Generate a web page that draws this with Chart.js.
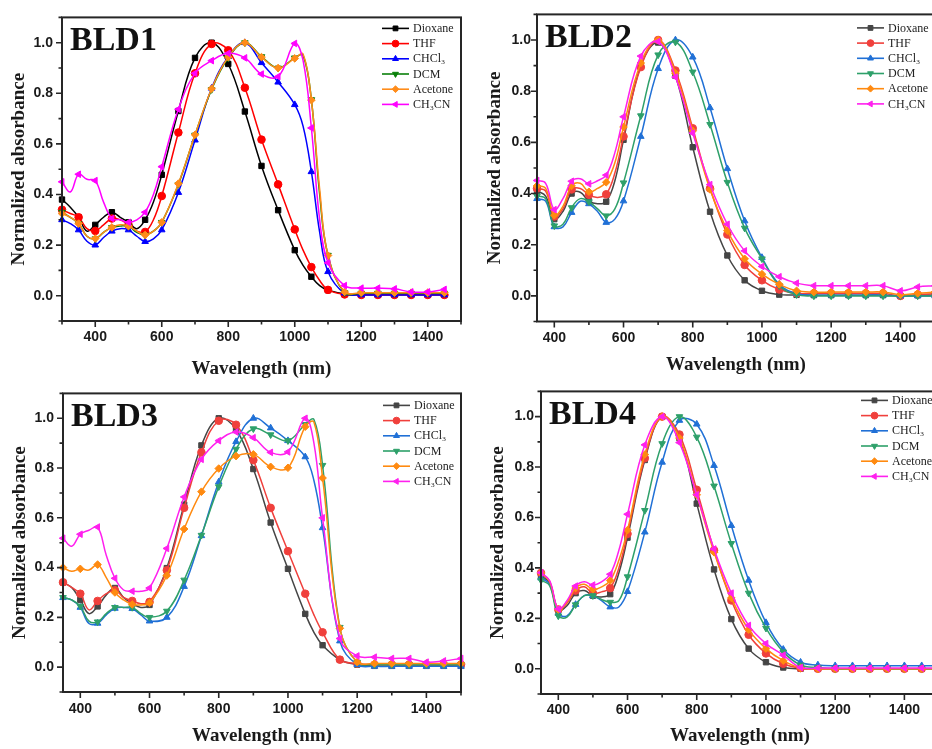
<!DOCTYPE html>
<html>
<head>
<meta charset="utf-8">
<script src="https://cdn.jsdelivr.net/npm/chart.js@4.4.1/dist/chart.umd.min.js"></script>
<style>
    html, body { margin: 0; padding: 0; background: #fff; }
    #wrap { position: relative; width: 932px; height: 749px; overflow: hidden; background: #fff; }
    canvas { position: absolute; }
</style>
</head>
<body>
<div id="wrap">
    <canvas id="bld1" width="466" height="382" style="left:0;top:0"></canvas>
    <canvas id="bld2" width="474" height="379" style="left:466px;top:0"></canvas>
    <canvas id="bld3" width="466" height="373" style="left:0;top:376px"></canvas>
    <canvas id="bld4" width="478" height="373" style="left:466px;top:376px"></canvas>
</div>
<script>
// solvents, same order in every panel
const solventNames = ['Dioxane', 'THF', 'CHCl₃', 'DCM', 'Acetone', 'CH₃CN'];
const markerStyles = ['rect', 'circle', 'triangle', 'triangle', 'rectRot', 'triangle'];
const markerRotation = [0, 0, 0, 180, 0, 270];
const brightColors = ['#000000', '#ff0000', '#0000ff', '#0a800a', '#ff8c1a', '#ff00ff'];
const softColors = ['#454545', '#f0403c', '#2070d6', '#2ea06a', '#ff8a10', '#ff20ee'];

const xTickValues = [400, 600, 800, 1000, 1200, 1400];
const yTickValues = [0, 0.2, 0.4, 0.6, 0.8, 1.0];

// BLD1
const bld1Wl = [300, 325, 350, 375, 400, 425, 450, 475, 500, 525, 550, 575, 600, 650, 700, 750, 800, 850, 900, 950, 1000, 1025, 1050, 1075, 1100, 1150, 1200, 1250, 1300, 1350, 1400, 1450];
const bld1Dioxane = [.38, .35, .31, .255, .28, .31, .33, .31, .29, .265, .30, .37, .478, .73, .94, 1.0, .916, .728, .513, .338, .18, .12, .075, .04, .022, .008, .005, .005, .005, .005, .005, .005];
const bld1Thf = [.34, .325, .31, .265, .256, .28, .305, .30, .28, .255, .252, .30, .394, .645, .879, .995, .97, .822, .617, .44, .262, .18, .113, .06, .023, .005, .003, .003, .003, .003, .003, .003];
const bld1Chcl3 = [.30, .285, .26, .215, .20, .23, .255, .265, .26, .235, .214, .225, .26, .408, .615, .82, .945, 1.0, .921, .844, .755, .67, .49, .25, .095, .01, .003, .003, .003, .003, .003, .003];
const bld1Dcm = [.33, .31, .285, .235, .225, .25, .27, .275, .275, .25, .24, .255, .29, .44, .635, .815, .94, 1.0, .945, .90, .94, .95, .775, .40, .16, .012, .01, .01, .01, .01, .01, .01];
const bld1Acetone = [.325, .31, .285, .235, .226, .25, .27, .28, .275, .255, .24, .255, .29, .443, .636, .818, .943, 1.0, .943, .90, .938, .955, .773, .42, .159, .015, .012, .012, .012, .012, .012, .012];
const bld1Ch3cn = [.45, .41, .48, .46, .455, .37, .305, .30, .29, .30, .33, .40, .51, .737, .879, .929, .958, .94, .876, .866, .997, .93, .663, .30, .13, .04, .03, .03, .027, .015, .015, .025];

// BLD2
const bld2Wl = [350, 375, 400, 425, 450, 475, 500, 525, 550, 575, 600, 650, 700, 750, 800, 850, 900, 950, 1000, 1050, 1100, 1150, 1200, 1250, 1300, 1350, 1400, 1450, 1500];
const bld2Dioxane = [.41, .39, .30, .33, .40, .405, .37, .36, .368, .45, .61, .90, .99, .86, .581, .329, .158, .061, .02, .005, .004, .003, .003, .003, .003, .003, 0, .003, .003];
const bld2Thf = [.42, .41, .31, .34, .416, .42, .395, .385, .397, .48, .623, .894, 1.0, .881, .655, .42, .24, .121, .061, .025, .01, .01, .01, .01, .01, .01, 0, .005, .008];
const bld2Chcl3 = [.38, .37, .27, .27, .326, .37, .36, .33, .287, .30, .371, .623, .888, 1.0, .933, .735, .497, .293, .15, .045, .01, .003, .003, .003, .003, .003, 0, 0, 0];
const bld2Dcm = [.39, .38, .274, .28, .345, .38, .368, .34, .313, .34, .442, .704, .942, .992, .875, .67, .444, .265, .145, .04, .005, 0, 0, 0, 0, 0, 0, 0, 0];
const bld2Acetone = [.43, .42, .315, .35, .43, .44, .407, .42, .444, .52, .66, .91, 1.0, .87, .645, .416, .255, .145, .085, .045, .02, .015, .015, .015, .015, .015, .005, .01, .015];
const bld2Ch3cn = [.451, .44, .337, .38, .448, .458, .438, .45, .472, .56, .70, .937, .994, .855, .636, .435, .28, .176, .115, .075, .05, .04, .04, .04, .04, .04, .02, .035, .04];

// BLD3
const bld3Wl = [350, 375, 400, 425, 450, 475, 500, 525, 550, 575, 600, 650, 700, 750, 800, 850, 900, 950, 1000, 1050, 1075, 1100, 1150, 1200, 1250, 1300, 1350, 1400, 1450, 1500];
const bld3Dioxane = [.34, .32, .27, .215, .244, .29, .318, .28, .255, .24, .25, .398, .653, .891, 1.0, .955, .796, .581, .395, .214, .14, .088, .03, .01, .005, .005, .005, .005, .005, .005];
const bld3Thf = [.341, .32, .295, .23, .266, .295, .309, .28, .266, .255, .262, .389, .64, .863, .99, .974, .832, .64, .466, .295, .21, .14, .03, .015, .01, .01, .01, .01, .01, .01];
const bld3Chcl3 = [.279, .27, .24, .175, .176, .21, .236, .24, .235, .21, .185, .20, .324, .528, .744, .906, 1.0, .961, .91, .845, .75, .56, .105, .01, .003, .003, .003, .003, .003, .003];
const bld3Dcm = [.28, .27, .245, .185, .182, .215, .24, .24, .24, .215, .20, .225, .35, .53, .725, .876, .958, .934, .91, .975, .995, .811, .16, .02, .01, .01, .01, .01, .01, .01];
const bld3Acetone = [.40, .385, .395, .39, .412, .36, .30, .27, .252, .25, .258, .368, .555, .705, .798, .848, .855, .805, .801, .966, .985, .76, .156, .02, .015, .015, .015, .015, .015, .015];
const bld3Ch3cn = [.518, .486, .534, .55, .563, .45, .357, .31, .305, .305, .318, .477, .684, .835, .91, .945, .922, .863, .865, 1.0, .90, .60, .115, .045, .04, .035, .035, .02, .025, .035];

// BLD4
const bld4Wl = [350, 375, 400, 425, 450, 475, 500, 525, 550, 575, 600, 650, 700, 750, 800, 850, 900, 950, 1000, 1050, 1100, 1150, 1200, 1250, 1300, 1350, 1400, 1450, 1500];
const bld4Dioxane = [.37, .34, .232, .25, .30, .31, .29, .285, .296, .38, .52, .828, 1.0, .915, .655, .394, .197, .08, .026, .005, 0, 0, 0, 0, 0, 0, 0, 0, 0];
const bld4Thf = [.38, .345, .235, .26, .31, .325, .30, .305, .32, .40, .535, .835, 1.0, .929, .71, .47, .271, .135, .061, .02, .003, 0, 0, 0, 0, 0, 0, 0, 0];
const bld4Chcl3 = [.36, .335, .22, .21, .255, .29, .29, .27, .245, .245, .306, .542, .819, .985, .97, .806, .568, .351, .183, .077, .026, .015, .012, .012, .012, .012, .012, .012, .012];
const bld4Dcm = [.351, .33, .21, .205, .254, .29, .29, .275, .264, .27, .365, .628, .893, 1.0, .919, .725, .497, .30, .161, .067, .015, .005, 0, 0, 0, 0, 0, 0, 0];
const bld4Acetone = [.38, .345, .235, .265, .32, .335, .315, .325, .35, .43, .55, .85, 1.0, .915, .69, .462, .281, .155, .08, .032, .003, 0, 0, 0, 0, 0, 0, 0, 0];
const bld4Ch3cn = [.381, .35, .237, .27, .328, .345, .332, .345, .375, .47, .613, .888, 1.0, .897, .69, .475, .30, .172, .10, .054, .005, .003, .003, .003, .003, .003, .003, .003, .003];

const tickFont = { family: '"Liberation Sans", Arial, sans-serif', size: 14, weight: 'bold' };
const titleFont = { family: '"Liberation Serif", "Times New Roman", serif', size: 19, weight: 'bold' };
const inkColor = '#1a1a1a';

function drawMarker(ctx, style, rotation, r, x, y) {
    if (Chart.helpers && Chart.helpers.drawPoint) {
        Chart.helpers.drawPoint(ctx, { pointStyle: style, rotation: rotation, radius: r, borderWidth: 1 }, x, y);
    } else {
        ctx.beginPath();
        ctx.arc(x, y, r, 0, Math.PI * 2);
        ctx.fill();
    }
}

// frame, outward ticks, panel name and legend
const panelDecor = {
    id: 'panelDecor',
    afterDraw(chart, args, opts) {
        const { ctx, chartArea: a } = chart;
        const xs = chart.scales.x, ys = chart.scales.y;
        ctx.save();
        ctx.strokeStyle = '#262626';
        ctx.lineWidth = 2;
        ctx.strokeRect(a.left, a.top, a.right - a.left, a.bottom - a.top);

        ctx.lineWidth = 1.6;
        ctx.beginPath();
        for (let v = Math.ceil(xs.min / 100) * 100; v <= xs.max; v += 100) {
            const px = xs.getPixelForValue(v);
            const len = v % 200 === 0 ? 6 : 3.5;
            ctx.moveTo(px, a.bottom);
            ctx.lineTo(px, a.bottom + len);
        }
        for (let i = -1; i <= 11; i++) {
            const py = ys.getPixelForValue(i / 10);
            const len = i % 2 === 0 ? 6 : 3.5;
            ctx.moveTo(a.left, py);
            ctx.lineTo(a.left - len, py);
        }
        ctx.stroke();

        ctx.fillStyle = '#111';
        ctx.font = 'bold 34px "Liberation Serif", "Times New Roman", serif';
        ctx.textBaseline = 'alphabetic';
        ctx.textAlign = 'left';
        ctx.fillText(opts.name, a.left + 8, a.top + 33);

        ctx.font = '12px "Liberation Serif", "Times New Roman", serif';
        ctx.textBaseline = 'middle';
        const lx = a.left + 320;
        chart.data.datasets.forEach((ds, i) => {
            const ly = a.top + opts.legendTop + i * 15.2;
            ctx.strokeStyle = ds.borderColor;
            ctx.fillStyle = ds.borderColor;
            ctx.lineWidth = 1.6;
            ctx.beginPath();
            ctx.moveTo(lx, ly);
            ctx.lineTo(lx + 27, ly);
            ctx.stroke();
            ctx.lineWidth = 1;
            drawMarker(ctx, markerStyles[i], markerRotation[i], 3.4, lx + 13.5, ly);
            ctx.fillStyle = '#222';
            ctx.fillText(ds.label, lx + 31, ly + 0.5);
        });
        ctx.restore();
    }
};

function makePanel(canvasId, name, wl, seriesList, colors, xMin, box) {
    const datasets = seriesList.map((vals, i) => ({
        label: solventNames[i],
        data: wl.map((x, j) => ({ x: x, y: vals[j] })),
        borderColor: colors[i],
        backgroundColor: colors[i],
        borderWidth: 1.5,
        tension: 0.4,
        pointStyle: markerStyles[i],
        pointRotation: markerRotation[i],
        pointRadius: ctx => (ctx.raw && ctx.raw.x % 50 === 0 ? 3.8 : 0),
        pointBorderWidth: 1,
        clip: false,
        order: seriesList.length - i
    }));

    return new Chart(document.getElementById(canvasId), {
        type: 'line',
        data: { datasets: datasets },
        options: {
            responsive: false,
            animation: false,
            events: [],
            layout: { padding: { top: box.padTop, right: box.padRight, left: 0, bottom: 0 } },
            plugins: {
                legend: { display: false },
                tooltip: { enabled: false },
                panelDecor: { name: name, legendTop: box.legendTop }
            },
            scales: {
                x: {
                    type: 'linear',
                    min: xMin,
                    max: 1500,
                    afterBuildTicks: s => { s.ticks = xTickValues.map(v => ({ value: v })); },
                    afterFit: s => { s.height = box.xHeight; },
                    grid: { display: false, drawTicks: false },
                    border: { display: false },
                    ticks: { padding: box.xTickPad, color: inkColor, font: tickFont, maxRotation: 0, autoSkip: false, callback: v => String(v) },
                    title: { display: true, text: 'Wavelength (nm)', color: inkColor, font: titleFont, padding: { top: 0, bottom: box.xTitlePad } }
                },
                y: {
                    min: -0.1,
                    max: 1.1,
                    afterBuildTicks: s => { s.ticks = yTickValues.map(v => ({ value: v })); },
                    afterFit: s => { s.width = box.yWidth; },
                    grid: { display: false, drawTicks: false },
                    border: { display: false },
                    ticks: { padding: box.yTickPad, color: inkColor, font: tickFont, callback: v => v.toFixed(1) },
                    title: { display: true, text: 'Normalized absorbance', color: inkColor, font: titleFont, padding: { top: box.yTitlePad, bottom: 0 } }
                }
            }
        },
        plugins: [panelDecor]
    });
}

makePanel('bld1', 'BLD1', bld1Wl,
    [bld1Dioxane, bld1Thf, bld1Chcl3, bld1Dcm, bld1Acetone, bld1Ch3cn], brightColors, 300,
    { padTop: 12, padRight: 5, yWidth: 62, xHeight: 61, yTickPad: 9, xTickPad: 8, yTitlePad: 8, xTitlePad: 2, legendTop: 11 });

makePanel('bld2', 'BLD2', bld2Wl,
    [bld2Dioxane, bld2Thf, bld2Chcl3, bld2Dcm, bld2Acetone, bld2Ch3cn], softColors, 350,
    { padTop: 12, padRight: 4, yWidth: 71, xHeight: 57.5, yTickPad: 6, xTickPad: 8, yTitlePad: 18, xTitlePad: 2.5, legendTop: 13.5 });

makePanel('bld3', 'BLD3', bld3Wl,
    [bld3Dioxane, bld3Thf, bld3Chcl3, bld3Dcm, bld3Acetone, bld3Ch3cn], softColors, 350,
    { padTop: 8, padRight: 5, yWidth: 63, xHeight: 57, yTickPad: 9, xTickPad: 8.5, yTitlePad: 8.5, xTitlePad: 2, legendTop: 12 });

makePanel('bld4', 'BLD4', bld4Wl,
    [bld4Dioxane, bld4Thf, bld4Chcl3, bld4Dcm, bld4Acetone, bld4Ch3cn], softColors, 350,
    { padTop: 9, padRight: 4, yWidth: 75, xHeight: 55, yTickPad: 7, xTickPad: 7.5, yTitlePad: 21, xTitlePad: 1.6, legendTop: 9 });
</script>
</body>
</html>
